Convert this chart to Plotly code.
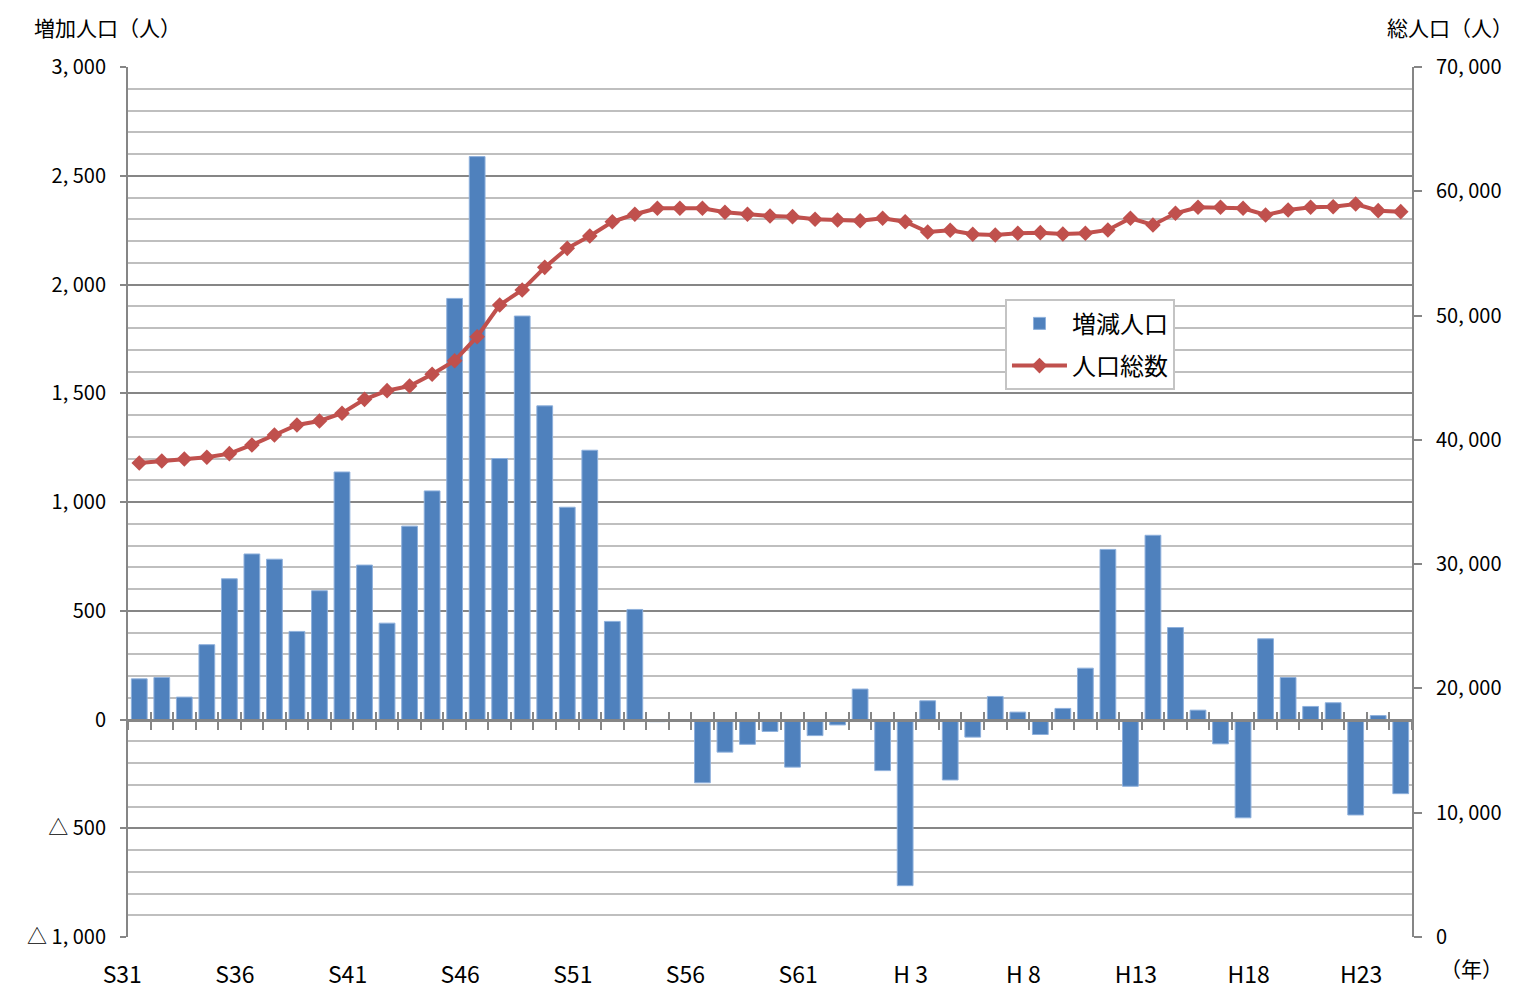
import plotly.graph_objects as go

# ---- data ----
years = [f"S{n}" for n in range(31, 64)] + [f"H{n}" for n in range(1, 25)]
change = [187, 193, 103, 344, 647, 761, 737, 405, 592, 1138,
          710, 443, 889, 1051, 1936, 2588, 1200, 1855, 1442, 976,
          1238, 451, 506, -10, 0, -291, -150, -114, -55, -219,
          -74, -25, 140, -235, -764, 86, -278, -81, 106, 34,
          -69, 51, 236, 782, -307, 847, 423, 43, -112, -452,
          371, 193, 60, 77, -439, 18, -341]
total = [38140, 38300, 38460, 38600, 38890, 39590, 40390, 41200, 41520, 42140,
         43260, 43960, 44330, 45280, 46370, 48300, 50850, 52060, 53880, 55410,
         56400, 57550, 58150, 58630, 58630, 58630, 58310, 58150, 58010, 57960,
         57750, 57690, 57630, 57830, 57550, 56720, 56860, 56540, 56480, 56620,
         56670, 56560, 56620, 56890, 57830, 57290, 58230, 58710, 58710, 58630,
         58090, 58490, 58710, 58760, 58980, 58440, 58360]
label_years = ["S31", "S36", "S41", "S46", "S51", "S56", "S61", "H3", "H8", "H13", "H18", "H23"]
label_texts = ["S31", "S36", "S41", "S46", "S51", "S56", "S61", "H 3", "H 8", "H13", "H18", "H23"]
left_vals = [-1000, -500, 0, 500, 1000, 1500, 2000, 2500, 3000]
left_text = ["△ 1, 000", "△ 500", "0", "500", "1, 000", "1, 500", "2, 000", "2, 500", "3, 000"]
right_vals = [0, 10000, 20000, 30000, 40000, 50000, 60000, 70000]
right_text = ["0", "10, 000", "20, 000", "30, 000", "40, 000", "50, 000", "60, 000", "70, 000"]

FONT = "Noto Sans CJK JP"
AXIS = "#868686"
MINOR = "#bfbfbf"

xticktext = [label_texts[label_years.index(y)] if y in label_years else "" for y in years]

fig = go.Figure()
fig.add_trace(go.Bar(
    x=years, y=change, name="増減人口", legendgroup="a",
    marker=dict(color="#4F81BD", line=dict(color="#8eb0dc", width=1)),
    xaxis="x", yaxis="y",
))
fig.add_trace(go.Scatter(
    x=years, y=total, name="人口総数", mode="lines+markers", legendgroup="b",
    line=dict(color="#C0504D", width=4),
    marker=dict(symbol="diamond", size=12, color="#C0504D"),
    xaxis="x2", yaxis="y2",
))

fig.update_layout(
    width=1515, height=986,
    margin=dict(l=120, r=111, t=59, b=57),
    paper_bgcolor="white", plot_bgcolor="white",
    font=dict(family=FONT, color="black", size=20),
    bargap=0.3,
    showlegend=True,
    legend=dict(
        x=0.683, y=0.733, xanchor="left", yanchor="top",
        bgcolor="white", bordercolor="#c4c4c4", borderwidth=2,
        font=dict(size=24, family=FONT, color="black"),
        itemwidth=55,
        tracegroupgap=8,
    ),
    xaxis=dict(
        type="category", categoryorder="array", categoryarray=years,
        range=[-0.5, len(years) - 0.5],
        anchor="free", position=0.25,
        tickmode="array", tickvals=years, ticktext=xticktext,
        tickson="boundaries", ticks="outside", ticklen=8, tickwidth=2, tickcolor=AXIS,
        tickangle=0,
        showline=True, linecolor=AXIS, linewidth=3,
        showgrid=False, zeroline=False,
        tickfont=dict(size=23, family=FONT, color="black"),
        ticklabelstandoff=234, ticklabelshift=-17,
        automargin=False,
    ),
    xaxis2=dict(
        type="category", categoryorder="array", categoryarray=years,
        overlaying="x", matches="x",
        anchor="free", position=0.25,
        tickmode="array", tickvals=years, ticktext=[""] * len(years),
        tickson="boundaries", ticks="inside", ticklen=8, tickwidth=2, tickcolor=AXIS,
        showline=False, showgrid=False, zeroline=False, showticklabels=False,
        layer="below traces",
    ),
    yaxis=dict(
        range=[-1000, 3000],
        tickmode="array", tickvals=left_vals, ticktext=left_text,
        ticks="outside", ticklen=6, tickwidth=2, tickcolor=AXIS,
        showline=True, linecolor=AXIS, linewidth=2,
        showgrid=True, gridcolor=AXIS, gridwidth=2,
        minor=dict(tickmode="linear", tick0=0, dtick=100, showgrid=True,
                   gridcolor=MINOR, gridwidth=2, ticks=""),
        zeroline=False,
        tickfont=dict(size=20, family=FONT, color="black"),
        ticklabelstandoff=10,
        automargin=False,
    ),
    yaxis2=dict(
        range=[0, 70000], overlaying="y", side="right", anchor="x",
        tickmode="array", tickvals=right_vals, ticktext=right_text,
        ticks="outside", ticklen=8, tickwidth=2, tickcolor=AXIS,
        showline=True, linecolor=AXIS, linewidth=2,
        showgrid=False, zeroline=False,
        tickfont=dict(size=20, family=FONT, color="black"),
        ticklabelstandoff=10,
        automargin=False,
    ),
    annotations=[
        dict(text="増加人口（人）", xref="paper", yref="paper", x=-0.0748, y=1.0655,
             xanchor="left", yanchor="top", showarrow=False,
             font=dict(size=21, family=FONT, color="black")),
        dict(text="総人口（人）", xref="paper", yref="paper", x=1.0802, y=1.0655,
             xanchor="right", yanchor="top", showarrow=False,
             font=dict(size=21, family=FONT, color="black")),
        dict(text="（年）", xref="paper", yref="paper", x=1.0724, y=-0.036,
             xanchor="right", yanchor="middle", showarrow=False,
             font=dict(size=21, family=FONT, color="black")),
    ],
)

fig.write_html("out.html")
